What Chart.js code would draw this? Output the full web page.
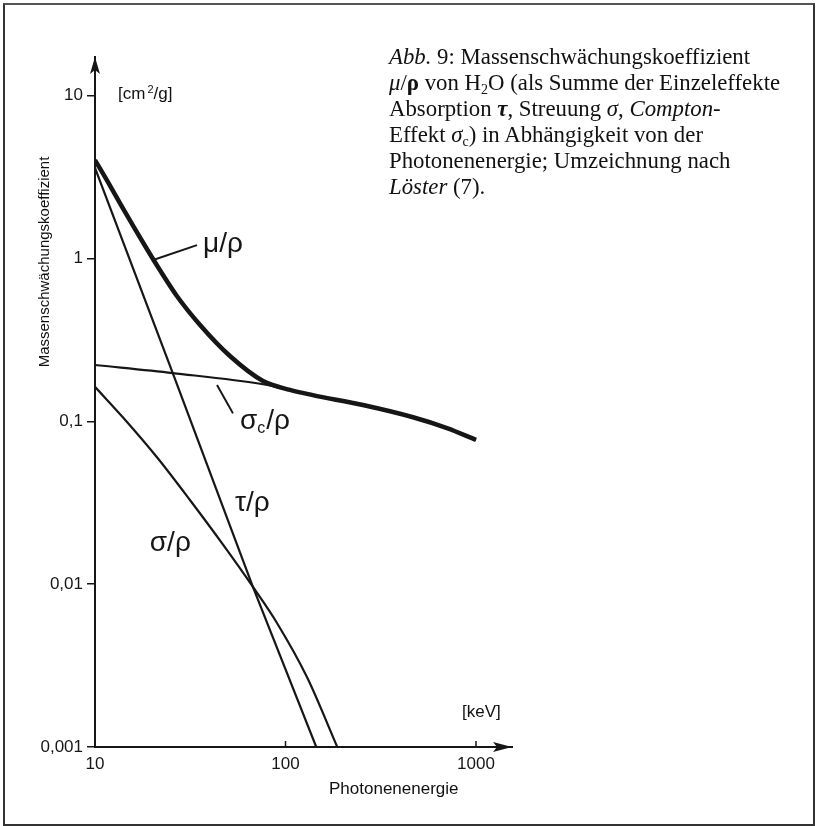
<!DOCTYPE html>
<html lang="de">
<head>
<meta charset="utf-8">
<title>Massenschwächungskoeffizient H2O</title>
<script src="https://cdn.jsdelivr.net/npm/chart.js@4.4.1/dist/chart.umd.min.js"></script>
<style>
    html, body { margin: 0; padding: 0; background: #fff; }
    #wrap { position: relative; width: 824px; height: 826px; overflow: hidden; }
    #frame { position: absolute; left: 3px; top: 3px; width: 808px; height: 819px; border: 2px solid #333; border-top-color: #555; }
    canvas { position: absolute; left: 0; top: 0; }
    .txt { position: absolute; color: #111; font-family: "Liberation Sans", Arial, sans-serif; white-space: nowrap; }
    #caption { left: 389px; top: 44px; font-family: "Liberation Serif", "Times New Roman", serif; font-size: 22.8px; line-height: 26px; color: #111; position: absolute; white-space: nowrap; }
    #caption sub { font-size: 14px; line-height: 0; vertical-align: -4px; }
    #ytitle { left: 43px; top: 262px; font-size: 15px; transform: translate(-50%, -50%) rotate(-90deg); }
    #yunit { left: 118px; top: 84px; font-size: 17px; }
    #yunit sup { font-size: 11px; line-height: 0; vertical-align: 6px; margin-left: 2px; }
    #xunit { left: 462px; top: 702px; font-size: 17px; }
    #xtitle { left: 329px; top: 779px; font-size: 17px; }
</style>
</head>
<body>
<div id="wrap">
    <canvas id="chart" width="824" height="826"></canvas>
    <div id="frame"></div>
    <div id="caption">
        <i>Abb.</i> 9: Massenschwächungskoeffizient<br>
        <i>μ</i>/<b>ρ</b> von H<sub>2</sub>O (als Summe der Einzeleffekte<br>
        Absorption <b><i>τ</i></b>, Streuung <i>σ</i>, <i>Compton-</i><br>
        Effekt <i>σ</i><sub>c</sub>) in Abhängigkeit von der<br>
        Photonenenergie; Umzeichnung nach<br>
        <i>Löster</i> (7).
    </div>
    <div class="txt" id="ytitle">Massenschwächungskoeffizient</div>
    <div class="txt" id="yunit">[cm<sup>2</sup>/g]</div>
    <div class="txt" id="xunit">[keV]</div>
    <div class="txt" id="xtitle">Photonenenergie</div>
</div>
<script>
// Photon energy [keV] and mass coefficients [cm²/g]
const muE = [10, 11.7, 13.7, 16.2, 19, 21.9, 26.9, 35.6, 51.1, 76.2, 105.6, 139, 255, 467, 704, 1000];
const muV = [4.03, 2.95, 2.13, 1.52, 1.113, 0.851, 0.589, 0.391, 0.252, 0.177, 0.156, 0.145, 0.126, 0.106, 0.091, 0.077];

const comptonE = [10, 25.6, 76.2, 139, 255, 467, 704, 1000];
const comptonV = [0.222, 0.198, 0.169, 0.145, 0.126, 0.106, 0.091, 0.077];

const tauE = [10, 25.6, 67.5, 145];
const tauV = [3.6, 0.198, 0.0096, 0.001];

const sigmaE = [10, 14, 21.1, 31.5, 47, 67.5, 90.2, 129.6, 187];
const sigmaV = [0.163, 0.106, 0.0604, 0.0329, 0.0175, 0.00962, 0.00578, 0.00269, 0.001];

// axes
const xTickValues = [10, 100, 1000];
const xTickLabels = ['10', '100', '1000'];
const yTickValues = [0.001, 0.01, 0.1, 1, 10];
const yTickLabels = ['0,001', '0,01', '0,1', '1', '10'];

// curve labels (left edge / baseline, in data units)
const labelParts = [
    [['μ/ρ']],
    [['σ'], ['c', 'sub'], ['/ρ']],
    [['τ/ρ']],
    [['σ/ρ']]
];
const labelE = [36.9, 57.7, 54.3, 19.4];
const labelV = [1.098, 0.0898, 0.0282, 0.0160];

// leader lines from label to curve
const leaderE = [[20.2, 34.3], [43.7, 53.0]];
const leaderV = [[0.98, 1.21], [0.1674, 0.112]];

const INK = '#161616';

function pts(xs, ys) {
    return xs.map((x, i) => ({x: x, y: ys[i]}));
}

const overlay = {
    id: 'overlay',
    afterDraw(chart) {
        const ctx = chart.ctx;
        const a = chart.chartArea;
        const x = chart.scales.x, y = chart.scales.y;
        ctx.save();
        ctx.fillStyle = INK;
        ctx.strokeStyle = INK;

        // arrow heads
        ctx.beginPath();
        ctx.moveTo(a.left, a.top);
        ctx.lineTo(a.left - 5, a.top + 17);
        ctx.lineTo(a.left, a.top + 13);
        ctx.lineTo(a.left + 5, a.top + 17);
        ctx.closePath();
        ctx.fill();

        ctx.beginPath();
        ctx.moveTo(a.right, a.bottom);
        ctx.lineTo(a.right - 19, a.bottom - 5);
        ctx.lineTo(a.right - 15, a.bottom);
        ctx.lineTo(a.right - 19, a.bottom + 5);
        ctx.closePath();
        ctx.fill();

        // x ticks pointing up
        ctx.lineWidth = 1.5;
        xTickValues.slice(1).forEach(v => {
            const px = x.getPixelForValue(v);
            ctx.beginPath();
            ctx.moveTo(px, a.bottom);
            ctx.lineTo(px, a.bottom - 6);
            ctx.stroke();
        });

        // leader lines
        ctx.lineWidth = 2;
        leaderE.forEach((es, i) => {
            ctx.beginPath();
            ctx.moveTo(x.getPixelForValue(es[0]), y.getPixelForValue(leaderV[i][0]));
            ctx.lineTo(x.getPixelForValue(es[1]), y.getPixelForValue(leaderV[i][1]));
            ctx.stroke();
        });

        // curve labels
        ctx.textBaseline = 'alphabetic';
        ctx.textAlign = 'left';
        labelParts.forEach((parts, i) => {
            let px = x.getPixelForValue(labelE[i]);
            const py = y.getPixelForValue(labelV[i]);
            parts.forEach(p => {
                const sub = p[1] === 'sub';
                ctx.font = (sub ? '16px' : '28px') + ' "Liberation Sans", Arial, sans-serif';
                ctx.fillText(p[0], px, py + (sub ? 4 : 0));
                px += ctx.measureText(p[0]).width + (sub ? 1 : 0);
            });
        });
        ctx.restore();
    }
};

const thin = {
    borderColor: INK,
    borderWidth: 2.2,
    pointRadius: 0,
    fill: false,
    cubicInterpolationMode: 'monotone'
};

new Chart(document.getElementById('chart'), {
    type: 'line',
    data: {
        datasets: [
            Object.assign({}, thin, {label: 'μ/ρ', data: pts(muE, muV), borderWidth: 4.5}),
            Object.assign({}, thin, {label: 'σc/ρ', data: pts(comptonE, comptonV)}),
            Object.assign({}, thin, {label: 'τ/ρ', data: pts(tauE, tauV), tension: 0, cubicInterpolationMode: 'default'}),
            Object.assign({}, thin, {label: 'σ/ρ', data: pts(sigmaE, sigmaV)})
        ]
    },
    options: {
        responsive: false,
        animation: false,
        layout: {padding: {left: 0, top: 57, right: 312, bottom: 0}},
        plugins: {legend: {display: false}, tooltip: {enabled: false}},
        scales: {
            x: {
                type: 'logarithmic',
                min: 10,
                max: 1545,
                afterFit: s => { s.height = 79; },
                afterBuildTicks: s => { s.ticks = xTickValues.map(v => ({value: v})); },
                border: {display: true, color: INK, width: 2},
                grid: {drawOnChartArea: false, drawTicks: false},
                ticks: {
                    padding: 7,
                    color: INK,
                    maxRotation: 0,
                    autoSkip: false,
                    font: {family: '"Liberation Sans", Arial, sans-serif', size: 17},
                    callback: v => { const i = xTickValues.indexOf(v); return i < 0 ? '' : xTickLabels[i]; }
                }
            },
            y: {
                type: 'logarithmic',
                min: 0.001,
                max: 17.3,
                afterFit: s => { s.width = 95; },
                afterBuildTicks: s => { s.ticks = yTickValues.map(v => ({value: v})); },
                border: {display: true, color: INK, width: 2},
                grid: {drawOnChartArea: false, drawTicks: true, tickLength: 8, color: INK, lineWidth: 1.5},
                ticks: {
                    padding: 4,
                    color: INK,
                    autoSkip: false,
                    font: {family: '"Liberation Sans", Arial, sans-serif', size: 17},
                    callback: v => { const i = yTickValues.indexOf(v); return i < 0 ? '' : yTickLabels[i]; }
                }
            }
        }
    },
    plugins: [overlay]
});
</script>
</body>
</html>
